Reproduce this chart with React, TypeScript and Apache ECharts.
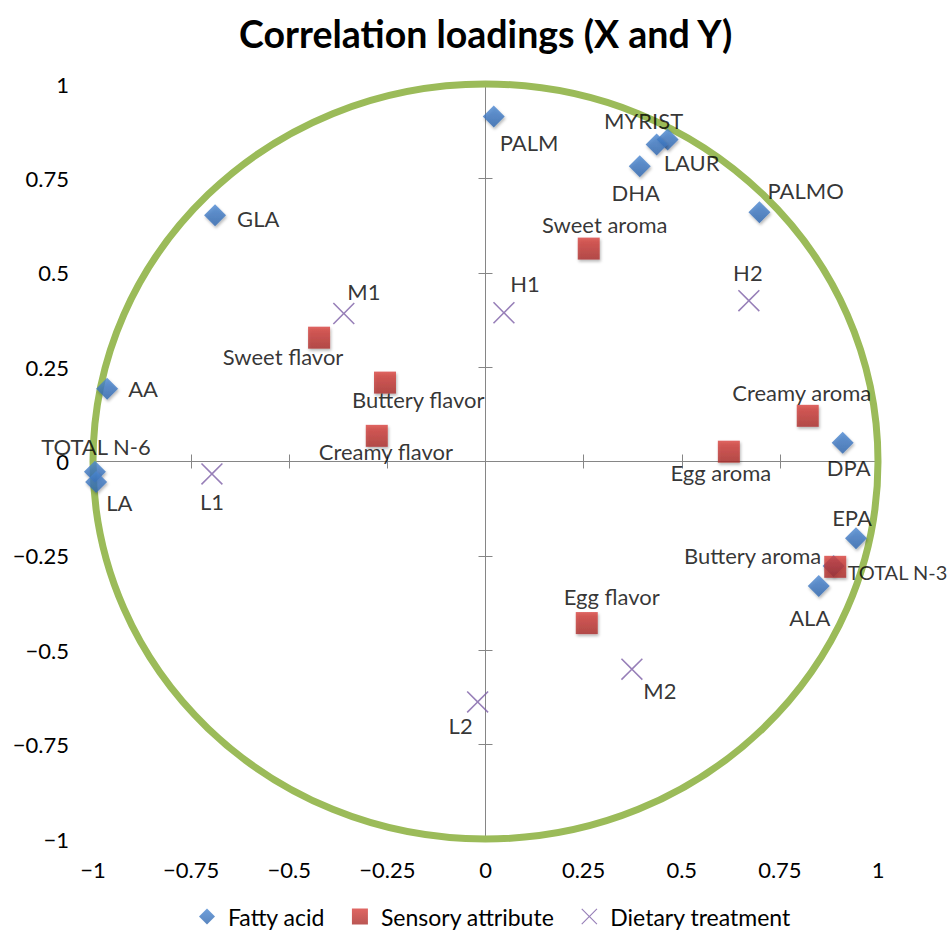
import React, { useEffect, useRef } from "react";
import * as echarts from "echarts";

const TITLE = "Correlation loadings (X and Y)";
const AXIS_MIN = -1;
const AXIS_MAX = 1;
const AXIS_STEP = 0.25;
const TICK_VALUES = [-1, -0.75, -0.5, -0.25, 0, 0.25, 0.5, 0.75, 1];
const TICK_LABELS = ["\u22121", "\u22120.75", "\u22120.5", "\u22120.25", "0", "0.25", "0.5", "0.75", "1"];

const SERIES_NAMES = ["Fatty acid", "Sensory attribute", "Dietary treatment"];

const FATTY_NAMES = ["PALM", "MYRIST", "LAUR", "DHA", "PALMO", "DPA", "GLA", "AA", "TOTAL N-6", "LA", "EPA", "ALA", "TOTAL N-3"];
const FATTY_X = [0.021, 0.464, 0.436, 0.393, 0.698, 0.91, -0.689, -0.964, -0.995, -0.992, 0.944, 0.849, 0.887];
const FATTY_Y = [0.914, 0.853, 0.84, 0.782, 0.66, 0.05, 0.652, 0.193, -0.027, -0.054, -0.203, -0.33, -0.277];

const SENSORY_NAMES = ["Sweet aroma", "Creamy aroma", "Egg aroma", "Sweet flavor", "Buttery flavor", "Creamy flavor", "Egg flavor", "Buttery aroma"];
const SENSORY_X = [0.263, 0.821, 0.62, -0.424, -0.256, -0.277, 0.258, 0.891];
const SENSORY_Y = [0.564, 0.121, 0.026, 0.328, 0.209, 0.068, -0.428, -0.279];

const DIET_NAMES = ["M1", "L1", "H1", "H2", "M2", "L2"];
const DIET_X = [-0.361, -0.697, 0.047, 0.671, 0.373, -0.02];
const DIET_Y = [0.392, -0.033, 0.394, 0.426, -0.55, -0.637];

// label placement: [dx, dy, align, fontSize] relative to the marker centre (layout only)
const LABEL_PLACEMENT: Record<string, [number, number, string, number?]> = {
  PALM: [6, 26, "left"],
  MYRIST: [-24, -19, "center"],
  LAUR: [7, 18, "left"],
  DHA: [-4, 26, "center"],
  PALMO: [8, -22, "left"],
  DPA: [6, 25, "center"],
  GLA: [22, 3, "left"],
  AA: [21, 0, "left"],
  "TOTAL N-6": [1, -25, "center"],
  LA: [10, 21, "left"],
  EPA: [-4, -21, "center"],
  ALA: [-9, 31, "center"],
  "TOTAL N-3": [14, 6, "left", 20],
  "Sweet aroma": [16, -24, "center"],
  "Creamy aroma": [-6, -23, "center"],
  "Egg aroma": [-8, 21, "center"],
  "Sweet flavor": [-36, 19, "center"],
  "Buttery flavor": [-33, 17, "left"],
  "Creamy flavor": [-58, 16, "left"],
  "Egg flavor": [25, -27, "center"],
  "Buttery aroma": [-14, -11, "right"],
  M1: [20, -22, "center"],
  L1: [0, 28, "center"],
  H1: [21, -29, "center"],
  H2: [-1, -28, "center"],
  M2: [28, 21, "center"],
  L2: [-17, 24, "center"],
};

const FONT = "Lato, 'Open Sans', sans-serif";
const X_PATH = "path://M1,0 L10,9 L19,0 L20,1 L11,10 L20,19 L19,20 L10,11 L1,20 L0,19 L9,10 L0,1 Z";

function buildPoints(names: string[], xs: number[], ys: number[]) {
  return names.map((n, i) => {
    const p = LABEL_PLACEMENT[n] || [0, 20, "center"];
    const label: any = { offset: [p[0], p[1]], align: p[2] };
    if (p[3]) label.fontSize = p[3];
    return { name: n, value: [xs[i], ys[i]], label };
  });
}

function tickLabel(v: number) {
  const idx = TICK_VALUES.findIndex((t) => Math.abs(t - v) < 1e-9);
  return idx >= 0 ? TICK_LABELS[idx] : "";
}

export default function App() {
  const ref = useRef<HTMLDivElement>(null);
  useEffect(() => {
    if (!ref.current) return;
    const chart = echarts.init(ref.current, undefined, { renderer: "svg" });
    const grid = { left: 93, right: 72, top: 84, bottom: 94 };
    const baseAxis = { type: "value", min: AXIS_MIN, max: AXIS_MAX, interval: AXIS_STEP, splitLine: { show: false } };
    const lineStyle = { color: "#868686", width: 1 };
    const labelStyle = { color: "#000", fontFamily: FONT, fontSize: 22 };
    const commonLabel = {
      show: true,
      position: "inside",
      formatter: "{b}",
      color: "#000",
      fontFamily: FONT,
      fontSize: 22,
    };
    const option: any = {
      animation: false,
      backgroundColor: "#fff",
      title: {
        text: TITLE,
        left: 234,
        top: 9,
        textStyle: { fontFamily: FONT, fontWeight: "bold", fontSize: 37.5, color: "#000" },
      },
      grid,
      xAxis: [
        {
          ...baseAxis,
          position: "bottom",
          axisLine: { show: false, onZero: false },
          axisTick: { show: false },
          axisLabel: { ...labelStyle, margin: 19, formatter: tickLabel },
        },
        {
          ...baseAxis,
          position: "bottom",
          axisLine: { show: true, onZero: true, lineStyle },
          axisTick: { show: true, inside: true, length: 7, lineStyle },
          axisLabel: { show: false },
        },
        {
          ...baseAxis,
          position: "bottom",
          axisLine: { show: true, onZero: true, lineStyle },
          axisTick: { show: true, inside: false, length: 7, lineStyle },
          axisLabel: { show: false },
        },
      ],
      yAxis: [
        {
          ...baseAxis,
          position: "left",
          axisLine: { show: false, onZero: false },
          axisTick: { show: false },
          axisLabel: { ...labelStyle, margin: 24, formatter: tickLabel },
        },
        {
          ...baseAxis,
          position: "left",
          axisLine: { show: true, onZero: true, lineStyle },
          axisTick: { show: true, inside: true, length: 7, lineStyle },
          axisLabel: { show: false },
        },
        {
          ...baseAxis,
          position: "left",
          axisLine: { show: true, onZero: true, lineStyle },
          axisTick: { show: true, inside: false, length: 7, lineStyle },
          axisLabel: { show: false },
        },
      ],
      legend: {
        top: 900,
        left: 194,
        itemWidth: 16,
        itemHeight: 16,
        itemGap: 27,
        formatter: "{t|{name}}",
        textStyle: {
          fontFamily: FONT,
          fontSize: 23,
          color: "#000",
          rich: { t: { fontFamily: FONT, fontSize: 23, color: "#000", padding: [0, 0, 0, 8] } },
        },
        data: [
          { name: SERIES_NAMES[0], icon: "diamond" },
          { name: SERIES_NAMES[1], icon: "rect" },
          { name: SERIES_NAMES[2], icon: X_PATH },
        ],
      },
      series: [
        {
          name: SERIES_NAMES[0],
          type: "scatter",
          z: 3,
          symbol: "diamond",
          symbolSize: 22,
          itemStyle: {
            color: new echarts.graphic.LinearGradient(0, 0, 0, 1, [
              { offset: 0, color: "#4C88D2" },
              { offset: 1, color: "#2F66AE" },
            ]),
            shadowBlur: 3,
            shadowOffsetX: 1,
            shadowOffsetY: 2,
            shadowColor: "rgba(0,0,0,0.35)",
          },
          label: commonLabel,
          data: buildPoints(FATTY_NAMES, FATTY_X, FATTY_Y),
        },
        {
          name: SERIES_NAMES[1],
          type: "scatter",
          z: 3,
          symbol: "rect",
          symbolSize: 22,
          itemStyle: {
            color: new echarts.graphic.LinearGradient(0, 0, 0, 1, [
              { offset: 0, color: "#D8403C" },
              { offset: 1, color: "#A92C29" },
            ]),
            shadowBlur: 3,
            shadowOffsetX: 1,
            shadowOffsetY: 2,
            shadowColor: "rgba(0,0,0,0.35)",
          },
          label: commonLabel,
          data: buildPoints(SENSORY_NAMES, SENSORY_X, SENSORY_Y),
        },
        {
          name: SERIES_NAMES[2],
          type: "scatter",
          z: 3,
          symbol: X_PATH,
          symbolSize: 22,
          itemStyle: { color: "#7D5FA6" },
          label: commonLabel,
          data: buildPoints(DIET_NAMES, DIET_X, DIET_Y),
        },
      ],
    };
    chart.setOption(option);
    const c = chart.convertToPixel({ seriesIndex: 0 }, [0, 0]) as number[];
    const e = chart.convertToPixel({ seriesIndex: 0 }, [1, 1]) as number[];
    chart.setOption({
      graphic: [
        {
          type: "ellipse",
          silent: true,
          z: 1,
          shape: { cx: c[0], cy: c[1], rx: e[0] - c[0], ry: c[1] - e[1] },
          style: { fill: "none", stroke: "#9BBB59", lineWidth: 7 },
        },
      ],
    });
    return () => chart.dispose();
  }, []);
  return <div ref={ref} style={{ position: "fixed", left: 0, top: 0, width: 950, height: 933 }} />;
}
